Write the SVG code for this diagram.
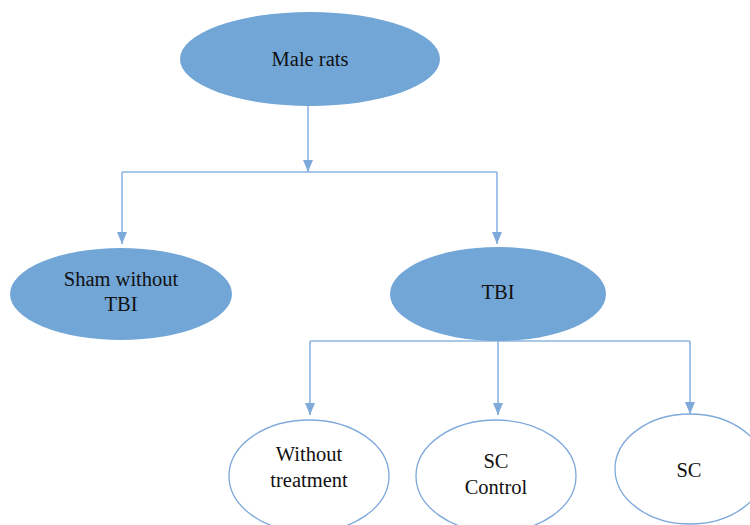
<svg xmlns="http://www.w3.org/2000/svg" width="750" height="525" viewBox="0 0 750 525">
<style>
.filled{fill:#72a6d7;stroke:none}
.open{fill:#ffffff;stroke:#7ea9db;stroke-width:1.3}
.lbl{font-family:'Liberation Serif','Times New Roman','DejaVu Serif',serif;font-size:20.5px;fill:#111111;text-anchor:middle}
.conn{fill:none;stroke:#8db4e2;stroke-width:1.6}
</style>
<defs>
<marker id="ah" viewBox="0 0 12 10" refX="12" refY="5" markerWidth="12" markerHeight="10" markerUnits="userSpaceOnUse" orient="auto">
<path d="M0,0 L12,5 L0,10 Z" fill="#7ea9db"/>
</marker>
</defs>
<g id="connectors">
<path class="conn" d="M308,106 V172" marker-end="url(#ah)"/>
<path class="conn" d="M122,172 H497"/>
<path class="conn" d="M122,172 V244" marker-end="url(#ah)"/>
<path class="conn" d="M497,172 V244" marker-end="url(#ah)"/>
<path class="conn" d="M310,341 H690"/>
<path class="conn" d="M310,341 V415" marker-end="url(#ah)"/>
<path class="conn" d="M498,341 V415" marker-end="url(#ah)"/>
<path class="conn" d="M690,341 V414" marker-end="url(#ah)"/>
</g>
<g id="male-rats">
<ellipse class="filled" cx="310" cy="59" rx="130" ry="47"/>
<text class="lbl" x="310" y="66" font-family="Liberation Serif, serif">Male rats</text>
</g>
<g id="sham">
<ellipse class="filled" cx="121" cy="294" rx="111" ry="46"/>
<text class="lbl" x="121" y="286">Sham without</text>
<text class="lbl" x="121" y="311">TBI</text>
</g>
<g id="tbi">
<ellipse class="filled" cx="498" cy="294" rx="108" ry="47"/>
<text class="lbl" x="498" y="299">TBI</text>
</g>
<g id="without-treatment">
<ellipse class="open" cx="309" cy="476" rx="80" ry="56"/>
<text class="lbl" x="309" y="461">Without</text>
<text class="lbl" x="309" y="487">treatment</text>
</g>
<g id="sc-control">
<ellipse class="open" cx="496" cy="476" rx="80" ry="56"/>
<text class="lbl" x="496" y="468">SC</text>
<text class="lbl" x="496" y="494">Control</text>
</g>
<g id="sc">
<ellipse class="open" cx="690" cy="469" rx="75" ry="55"/>
<text class="lbl" x="689" y="477">SC</text>
</g>
</svg>
